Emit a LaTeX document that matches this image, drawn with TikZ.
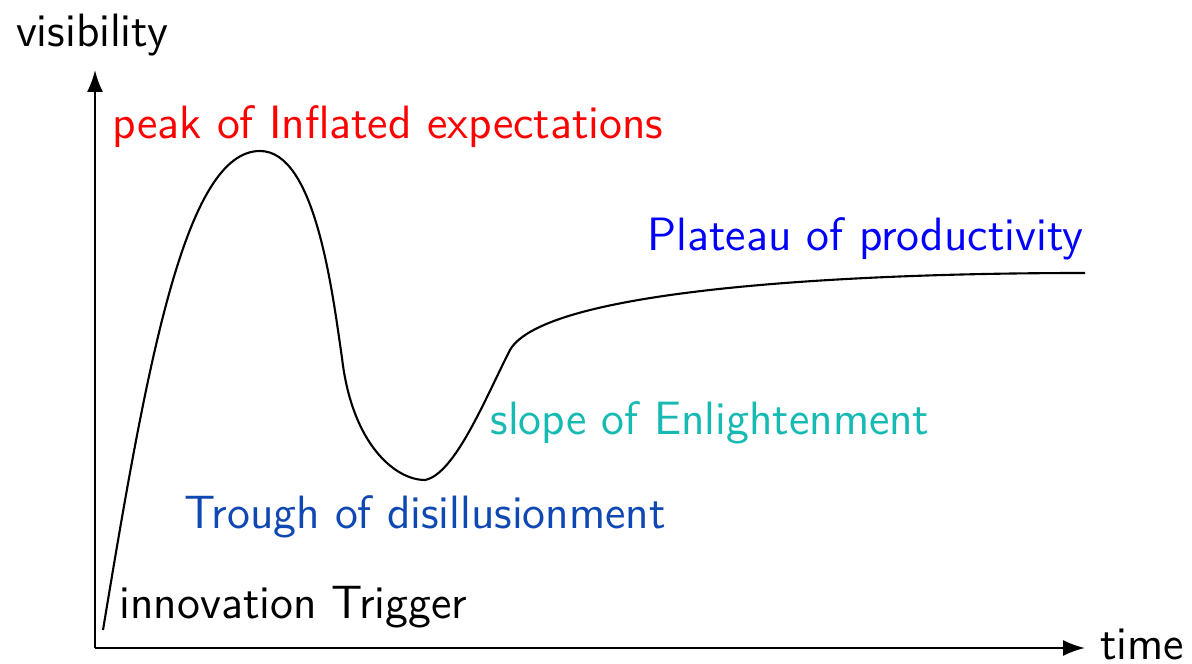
\documentclass[tikz,border=0pt]{standalone}
\usepackage{tikz}
\usetikzlibrary{arrows.meta,positioning}
\definecolor{slopecol}{RGB}{22,186,178}
\definecolor{troughcol}{RGB}{15,72,178}
\tikzset{
  axis/.style={
    line width=0.6pt,
    -{Latex[length=2.2mm,width=1.6mm]},
  },
  hype/.style={line width=0.6pt},
  phase/.style={
    inner sep=0pt,
    font=\sffamily\fontsize{13.3}{15}\selectfont,
  },
}
\begin{document}
\begin{tikzpicture}
  \useasboundingbox (0,0) rectangle (11.92,6.64);
  \coordinate (O) at (0.95,0.16);
  \coordinate (Ytop) at (0.95,5.94);
  \coordinate (Xend) at (10.85,0.16);
  \draw[axis] (O) -- (Ytop);
  \draw[axis] (O) -- (Xend);
  \node[phase] (vis) at (0.92,6.29) {visibility};
  \node[phase,anchor=base] (time) at (11.42,0.04) {time};

  % the hype curve
  \coordinate (start) at (1.03,0.34);
  \coordinate (peak) at (2.60,5.13);
  \coordinate (fall) at (3.42,3.06);
  \coordinate (trough) at (4.25,1.84);
  \coordinate (rise) at (5.10,3.14);
  \coordinate (plateau) at (10.85,3.91);
  \draw[hype] (start) .. controls (1.47,3.0) and (1.85,5.13) .. (peak)
    .. controls (3.15,5.13) and (3.32,3.75) .. (fall)
    .. controls (3.52,2.2) and (3.95,1.84) .. (trough)
    .. controls (4.55,1.9) and (4.85,2.65) .. (rise)
    .. controls (5.45,3.75) and (8.5,3.91) .. (plateau);

  \node[phase,text=red] (peakT) at (3.88,5.37) {peak of Inflated expectations};
  \node[phase,text=blue] (plateauT) at (8.655,4.25) {Plateau of productivity};
  \node[phase,text=slopecol] (slopeT) at (7.10,2.41) {slope of Enlightenment};
  \node[phase,text=troughcol] (troughT) at (4.25,1.47) {Trough of disillusionment};
  \node[phase] (triggerT) at (2.935,0.57) {innovation Trigger};
\end{tikzpicture}
\end{document}
